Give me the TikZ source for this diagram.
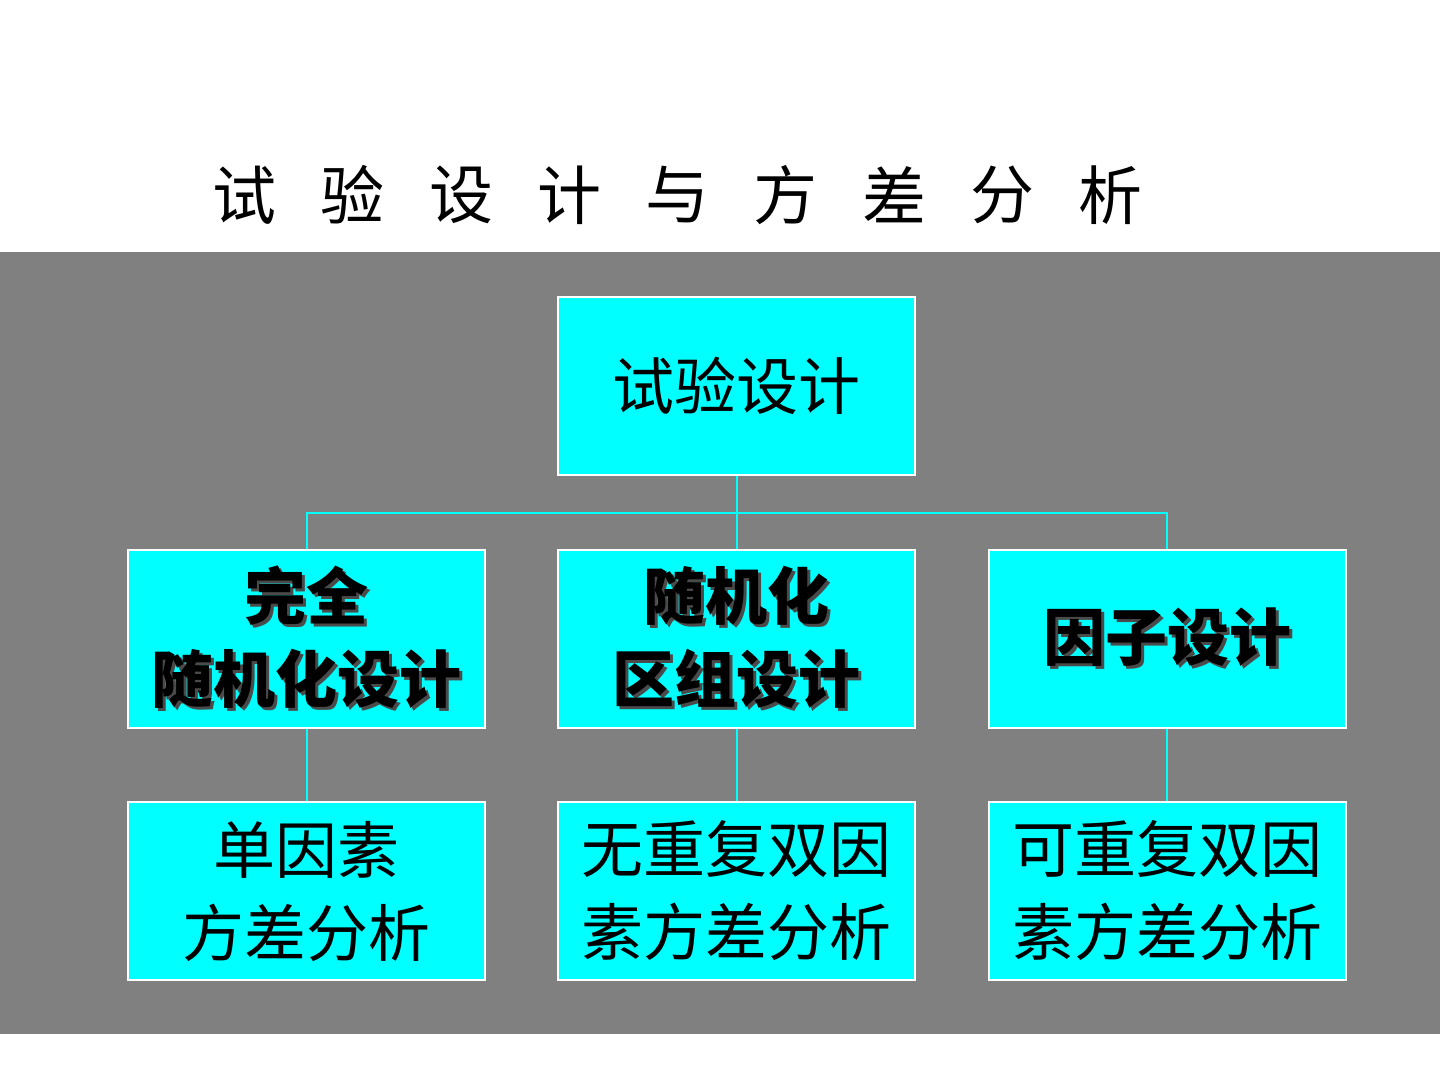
\documentclass[tikz,border=0pt]{standalone}
\usepackage{fontspec}
\newfontfamily\cjk{Noto Sans CJK SC}
\definecolor{bandgray}{HTML}{808080}
\definecolor{boxcyan}{HTML}{00FFFF}
\definecolor{shadowc}{HTML}{4A4A4A}
\newcommand\shtxt[1]{\makebox[0pt][l]{\kern1.6pt\raisebox{-1.6pt}{\textcolor{shadowc}{#1}}}#1}
\tikzset{
  boxnode/.style={draw=white, line width=1pt, fill=boxcyan, minimum width=178.5pt, minimum height=89pt, inner sep=0pt, align=center, text=black, font=\cjk\fontsize{31pt}{41.5pt}\selectfont},
  boldtxt/.style={font=\cjk\bfseries\fontsize{31pt}{41.5pt}\selectfont},
  conn/.style={draw=boxcyan, line width=1pt},
  titlechar/.style={font=\cjk\fontsize{32pt}{38pt}\selectfont, inner sep=0pt, text=black}
}
\begin{document}
\begin{tikzpicture}[x=0.5pt, y=-0.5pt]
\useasboundingbox (0,0) rectangle (1440,1080);
\fill[white] (0,0) rectangle (1440,1080);
\fill[bandgray] (0,252) rectangle (1440,1034);
% title
\foreach \c [count=\i from 0] in {试,验,设,计,与,方,差,分,析}{
  \node[titlechar] (t\i) at ({244.5+108.25*\i},195) {\c};
}
% boxes
\node[boxnode] (top) at (736.5,386) {试验设计};
\node[boxnode, boldtxt] (b1) at (306.5,639) {\shtxt{完全}\\\shtxt{随机化设计}};
\node[boxnode, boldtxt] (b2) at (736.5,639) {\shtxt{随机化}\\\shtxt{区组设计}};
\node[boxnode, boldtxt] (b3) at (1167,639) {\shtxt{因子设计}};
\node[boxnode] (c1) at (306.5,891) {单因素\\方差分析};
\node[boxnode] (c2) at (736.5,891) {无重复双因\\素方差分析};
\node[boxnode] (c3) at (1167,891) {可重复双因\\素方差分析};
% connectors
\coordinate (hub) at (736.5,513);
\draw[conn] (top.south) -- (b2.north);
\draw[conn] (b1.north) |- (hub) -| (b3.north);
\draw[conn] (b1.south) -- (c1.north);
\draw[conn] (b2.south) -- (c2.north);
\draw[conn] (b3.south) -- (c3.north);
\end{tikzpicture}
\end{document}
